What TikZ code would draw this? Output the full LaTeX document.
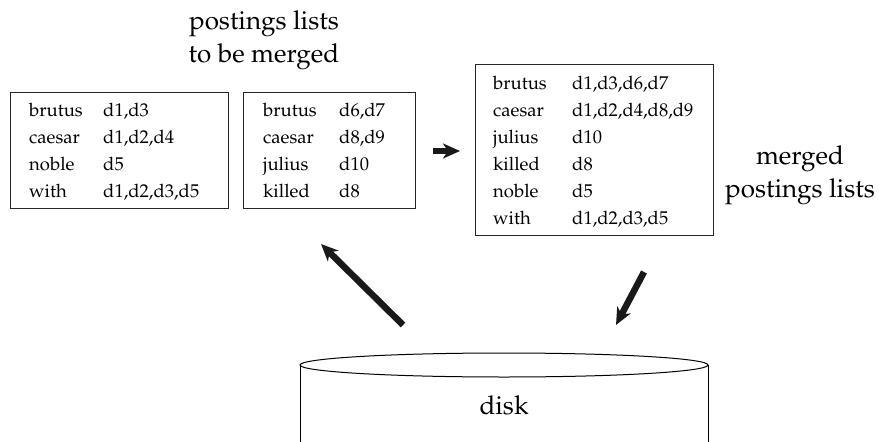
\documentclass[tikz,border=0pt]{standalone}
\usepackage[T1]{fontenc}
\renewcommand{\rmdefault}{ppl}
\usetikzlibrary{arrows.meta}
\begin{document}
\begin{tikzpicture}[x=1pt,y=-1pt,
  listbox/.style={draw=black!85,line width=0.9pt,inner sep=0pt},
  entry/.style={anchor=base west,inner sep=0pt,font=\fontsize{18.5}{22}\selectfont},
  biglabel/.style={align=center,inner sep=0pt,font=\fontsize{26}{33}\selectfont},
  fatarrow/.style={line width=6.5pt,draw=black!90,-{Stealth[length=17pt,width=15pt,inset=5pt]}}]
\useasboundingbox (0,0) rectangle (879,442);
% title
\node[biglabel] (title) at (264,40) {postings lists\\to be merged};
\node[biglabel] (mlabel) at (800,175) {merged\\postings lists};
% boxes
\node[listbox,minimum width=218pt,minimum height=116pt] (b1) at (119,150) {};
\node[listbox,minimum width=172pt,minimum height=116pt] (b2) at (329,150) {};
\node[listbox,minimum width=238pt,minimum height=171pt] (b3) at (594,149.5) {};
% box 1
\node[entry] (k11) at (29,116) {brutus};  \node[entry] (v11) at (103,116) {d1,d3};
\node[entry] (k12) at (29,143) {caesar};  \node[entry] (v12) at (103,143) {d1,d2,d4};
\node[entry] (k13) at (29,170) {noble};   \node[entry] (v13) at (103,170) {d5};
\node[entry] (k14) at (29,197) {with};    \node[entry] (v14) at (103,197) {d1,d2,d3,d5};
% box 2
\node[entry] (k21) at (263,116) {brutus}; \node[entry] (v21) at (339,116) {d6,d7};
\node[entry] (k22) at (263,143) {caesar}; \node[entry] (v22) at (339,143) {d8,d9};
\node[entry] (k23) at (263,170) {julius}; \node[entry] (v23) at (339,170) {d10};
\node[entry] (k24) at (263,197) {killed}; \node[entry] (v24) at (339,197) {d8};
% box 3
\node[entry] (k31) at (493,89)  {brutus}; \node[entry] (v31) at (572,89)  {d1,d3,d6,d7};
\node[entry] (k32) at (493,116) {caesar}; \node[entry] (v32) at (572,116) {d1,d2,d4,d8,d9};
\node[entry] (k33) at (493,143) {julius}; \node[entry] (v33) at (572,143) {d10};
\node[entry] (k34) at (493,170) {killed}; \node[entry] (v34) at (572,170) {d8};
\node[entry] (k35) at (493,197) {noble};  \node[entry] (v35) at (572,197) {d5};
\node[entry] (k36) at (493,224) {with};   \node[entry] (v36) at (572,224) {d1,d2,d3,d5};
% disk
\draw[line width=1pt] (504,365) ellipse [x radius=204pt, y radius=12pt];
\draw[line width=1pt] (300,365) -- (300,445);
\draw[line width=1pt] (708,365) -- (708,445);
\node[biglabel] (disk) at (504,405) {disk};
% arrows
\coordinate (m1) at (433,151); \coordinate (m2) at (460,151);
\coordinate (u1) at (403,325); \coordinate (u2) at (321,244);
\coordinate (d1) at (644,272); \coordinate (d2) at (616,325);
\draw[fatarrow] (m1) -- (m2);
\draw[fatarrow] (u1) -- (u2);
\draw[fatarrow] (d1) -- (d2);
\end{tikzpicture}
\end{document}
